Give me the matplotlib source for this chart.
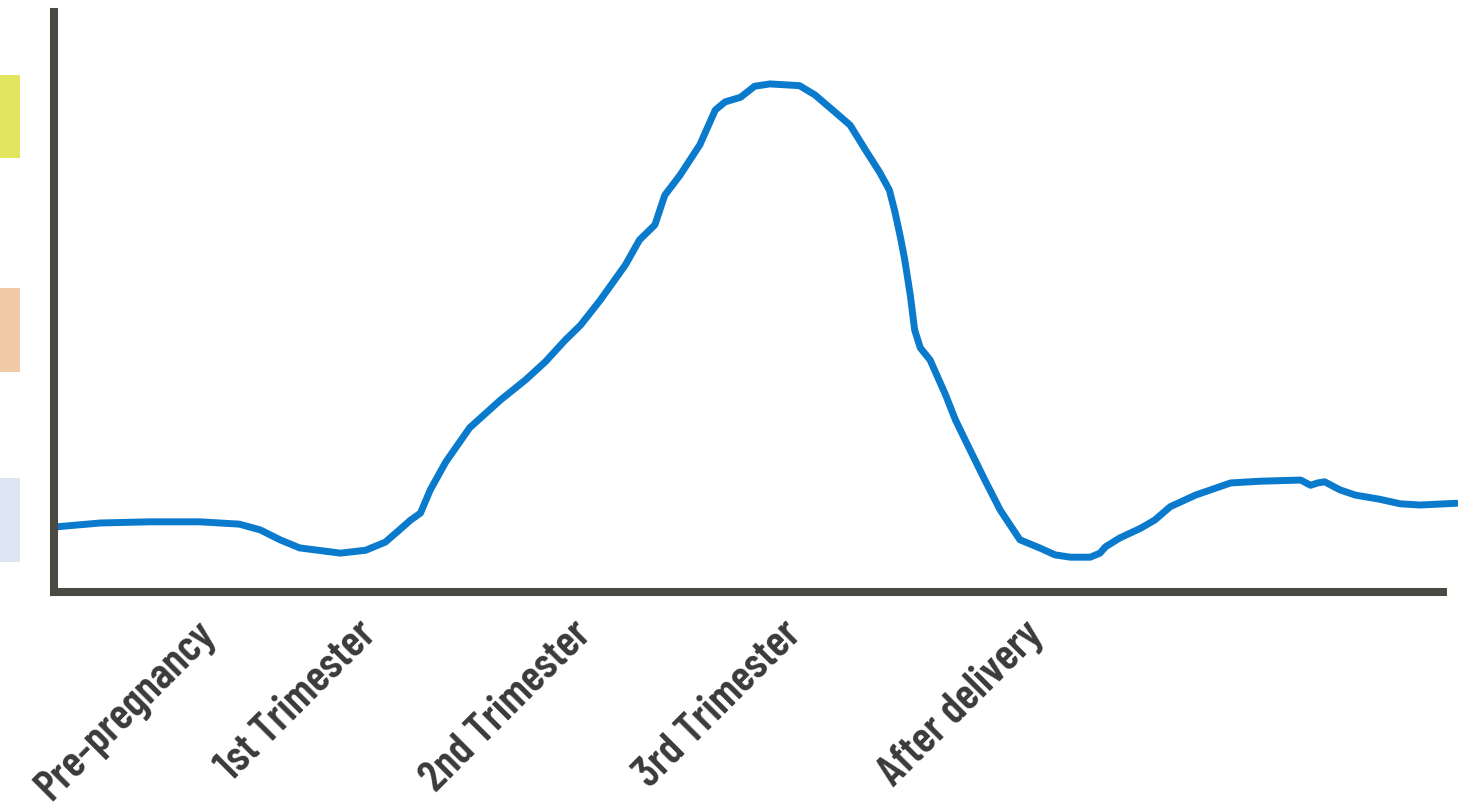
import matplotlib.pyplot as plt

# curve (time index 0-100, level 0-100)
x = [0, 3.3, 6.8, 10.4, 13.2, 14.7, 16.1, 17.5, 20.4, 22.2, 23.6, 24.6, 25.4, 26.1,
     26.8, 27.9, 29.6, 31.8, 33.6, 35.0, 36.4, 37.5, 38.9, 40.7, 41.7, 42.8, 43.5,
     44.6, 46.0, 47.1, 47.8, 48.9, 49.9, 51.0, 53.1, 54.2, 55.6, 56.7, 57.8, 58.8,
     59.5, 59.9, 60.3, 60.6, 61.0, 61.3, 61.7, 62.4, 63.5, 64.2, 64.9, 66.3, 67.4, 68.8, 70.2,
     71.3, 72.4, 73.8, 74.5, 74.9, 75.9, 77.4, 78.4, 79.5, 81.3, 83.8, 85.9, 88.8,
     89.5, 90.0, 90.5, 91.6, 92.7, 94.4, 95.9, 97.3, 99.9]
level = [11.2, 11.9, 12.1, 12.1, 11.7, 10.7, 9.0, 7.6, 6.7, 7.2, 8.6, 10.7, 12.4, 13.6,
         17.6, 22.4, 28.3, 33.1, 36.6, 39.7, 43.4, 46.0, 50.3, 56.4, 60.7, 63.3, 68.4,
         71.9, 77.1, 83.1, 84.5, 85.3, 87.2, 87.6, 87.3, 85.7, 82.8, 80.5, 76.2, 72.4,
         69.3, 65.5, 61.0, 57.2, 51.0, 45.2, 42.1, 40.0, 34.0, 29.7, 26.2, 19.3, 14.1, 9.0, 7.6,
         6.4, 6.0, 6.0, 6.7, 7.8, 9.3, 11.0, 12.4, 14.7, 16.7, 18.8, 19.1, 19.3,
         18.4, 18.8, 19.0, 17.6, 16.7, 16.0, 15.2, 15.0, 15.3]

stage_labels = ["Pre-pregnancy", "1st Trimester", "2nd Trimester", "3rd Trimester", "After delivery"]
stage_pos = [11.1, 22.5, 37.8, 52.8, 70.0]

# coloured zone markers on the left edge
zone_low = [74.8, 37.9, 5.2]
zone_high = [89.1, 52.4, 19.7]
zone_colors = ["#e2e65e", "#f1cba8", "#dde5f3"]

fig = plt.figure(figsize=(14.66, 8.09), dpi=100)
ax = fig.add_axes([54 / 1466, 217 / 809, 1404 / 1466, 580 / 809])

ax.plot(x, level, color="#0a7acc", linewidth=5, solid_capstyle="round", solid_joinstyle="round")

for lo, hi, c in zip(zone_low, zone_high, zone_colors):
    ax.bar(-3.13, hi - lo, bottom=lo, width=1.45, color=c, clip_on=False)

ax.set_xlim(0, 100)
ax.set_ylim(0, 100)

for side in ["top", "right"]:
    ax.spines[side].set_visible(False)
for side in ["left", "bottom"]:
    ax.spines[side].set_color("#4a4a43")
    ax.spines[side].set_linewidth(5.8)
ax.spines["bottom"].set_bounds(0, 98.9)

ax.set_yticks([])
ax.set_xticks(stage_pos)
ax.set_xticklabels(stage_labels, rotation=45, ha="right", va="center",
                   rotation_mode="anchor", fontsize=32, color="#3a3a3a",
                   family=["Barlow Condensed", "DejaVu Sans"], fontweight="semibold")
ax.tick_params(axis="x", length=0, pad=26)

fig.savefig("out.png", dpi=100)
